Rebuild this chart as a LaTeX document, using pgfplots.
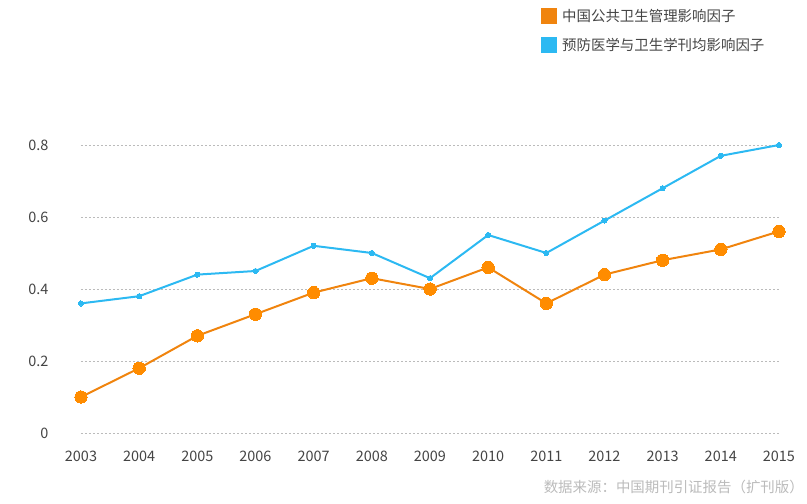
\documentclass[border=0pt]{standalone}
\usepackage{fontspec}
\setmainfont{Noto Sans CJK SC}
\usepackage{pgfplots}
\pgfplotsset{compat=1.18}
\definecolor{cOrange}{HTML}{FF8C00}
\definecolor{cOrangeLine}{HTML}{F0840E}
\definecolor{cBlue}{HTML}{2CB9F2}
\definecolor{cGrid}{HTML}{BBBBBB}
\definecolor{cTick}{HTML}{444444}
\definecolor{cSrc}{HTML}{BBBBBB}
\begin{document}
\begin{tikzpicture}
\begin{axis}[
    scale only axis,
    width=698bp, height=288bp,
    xmin=2003, xmax=2015,
    ymin=0, ymax=0.8,
    clip=false,
    axis line style={draw=none},
    major tick length=0pt,
    xtick={2003,...,2015},
    ytick={0,0.2,0.4,0.6,0.8},
    xticklabel style={/pgf/number format/1000 sep={}, font=\fontsize{14.5}{16}\selectfont, text=cTick, yshift=-14bp},
    yticklabel style={/pgf/number format/fixed, /pgf/number format/precision=1, font=\fontsize{14.5}{16}\selectfont, text=cTick, xshift=-29bp},
    /pgf/number format/assume math mode=true,
    ymajorgrids,
    major grid style={cGrid, line width=0.8bp, dash pattern=on 2bp off 2bp},
    legend cell align=left,
    legend style={at={(0.659,1.478)}, anchor=north west, draw=none, fill=none,
        font=\fontsize{14.5}{16}\selectfont, text=cTick, row sep=11bp, inner sep=0pt},
    legend image code/.code={\fill[#1] (0bp,-7bp) rectangle (14bp,7bp); \path[draw=none,fill=none] (0bp,0bp) rectangle (18bp,0bp);},
]
\addplot[cOrangeLine, line width=2bp, mark=*, mark size=6.2bp, mark options={fill=cOrange, draw=cOrange, line width=0pt}]
  coordinates {(2003,0.10) (2004,0.18) (2005,0.27) (2006,0.33) (2007,0.39) (2008,0.43) (2009,0.40) (2010,0.46) (2011,0.36) (2012,0.44) (2013,0.48) (2014,0.51) (2015,0.56)};
\addlegendentry[]{中国公共卫生管理影响因子}
\addplot[cBlue, line width=2bp, mark=*, mark size=2.6bp, mark options={fill=cBlue, draw=cBlue, line width=0pt}]
  coordinates {(2003,0.36) (2004,0.38) (2005,0.44) (2006,0.45) (2007,0.52) (2008,0.50) (2009,0.43) (2010,0.55) (2011,0.50) (2012,0.59) (2013,0.68) (2014,0.77) (2015,0.80)};
\addlegendentry[]{预防医学与卫生学刊均影响因子}
\node[anchor=east, text=cSrc, font=\fontsize{14.5}{16}\selectfont, inner sep=0pt] at ([xshift=723bp,yshift=-54bp]rel axis cs:0,0) {数据来源：中国期刊引证报告（扩刊版）};
\coordinate (O) at (rel axis cs:0,0);
\end{axis}
\pgfresetboundingbox
\path ([xshift=-81bp,yshift=-71bp]O) rectangle ([xshift=726bp,yshift=433bp]O);
\end{tikzpicture}
\end{document}
